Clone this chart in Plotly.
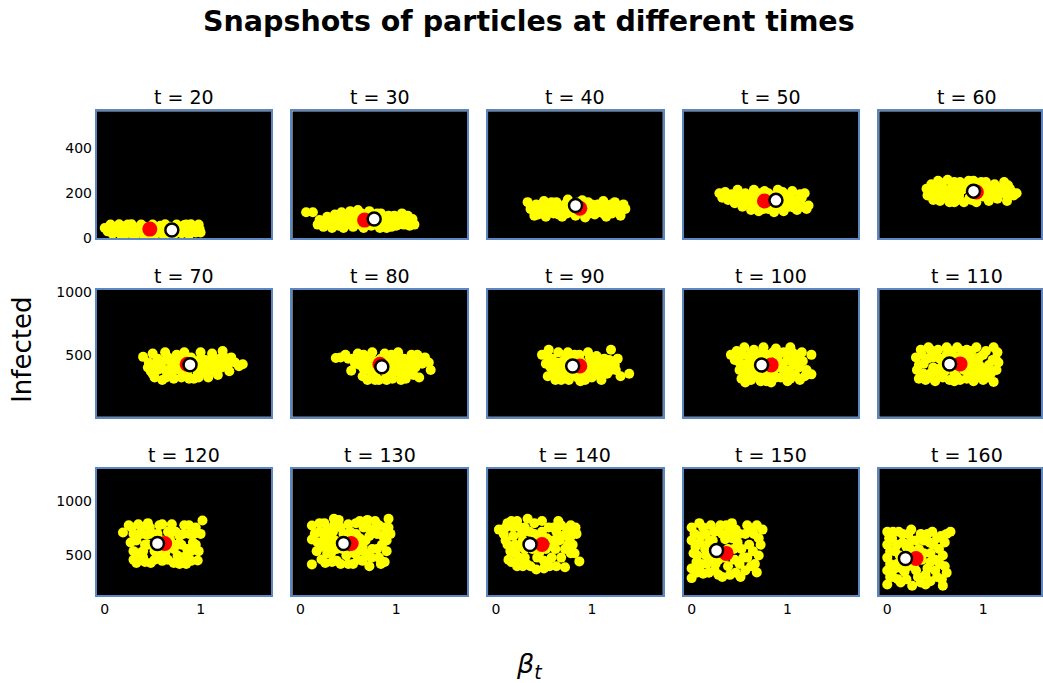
import plotly.graph_objects as go

# Particle snapshots: (beta_t, infected) pairs for each time step
times = [20, 30, 40, 50, 60, 70, 80, 90, 100, 110, 120, 130, 140, 150, 160]

t20 = [(0.0,45),(0.03,30),(0.06,60),(0.08,20),(0.1,50),(0.12,35),(0.15,62),(0.17,15),(0.2,40),(0.22,55),
       (0.25,25),(0.28,62),(0.3,12),(0.32,45),(0.35,30),(0.38,60),(0.4,18),(0.42,50),(0.45,25),(0.5,60),
       (0.52,15),(0.55,40),(0.58,55),(0.6,20),(0.63,62),(0.65,30),(0.68,50),(0.72,15),(0.75,60),(0.78,35),
       (0.8,22),(0.83,58),(0.86,40),(0.88,15),(0.9,62),(0.93,30),(0.96,50),(0.98,60),(1.0,25),(0.7,10),
       (0.45,10),(0.2,10),(0.05,40),(0.1,25),(0.14,48),(0.24,60),(0.27,35),(0.33,20),(0.37,45),(0.43,35),
       (0.5,30),(0.53,50),(0.57,28),(0.62,45),(0.66,15),(0.73,40),(0.77,50),(0.82,25),(0.85,60),(0.9,45),
       (0.95,25),(0.99,40)]
t30 = [(0.06,115),(0.13,115),(0.18,60),(0.2,80),(0.24,50),(0.28,95),(0.3,65),(0.33,45),(0.36,105),(0.38,80),
       (0.4,55),(0.43,115),(0.45,45),(0.47,90),(0.5,70),(0.52,120),(0.55,50),(0.57,100),(0.6,125),(0.62,60),
       (0.64,110),(0.66,45),(0.7,95),(0.72,120),(0.74,55),(0.78,70),(0.8,110),(0.83,45),(0.86,90),(0.88,65),
       (0.92,100),(0.95,50),(0.98,80),(1.02,60),(1.06,110),(1.1,75),(1.14,55),(1.17,85),(1.19,60),(0.9,45),
       (0.55,85),(0.35,70),(0.25,70),(0.3,85),(0.34,55),(0.4,95),(0.42,70),(0.46,105),(0.48,60),(0.52,95),
       (0.56,70),(0.6,85),(0.62,105),(0.68,70),(0.72,75),(0.76,95),(0.8,60),(0.84,110),(0.87,75),(0.9,95),
       (0.94,70),(0.98,100),(1.0,55),(1.04,80),(1.08,60),(1.12,100),(0.22,65)]
t40 = [(0.33,160),(0.36,130),(0.4,100),(0.42,150),(0.46,120),(0.5,165),(0.52,95),(0.56,140),(0.6,110),(0.63,160),
       (0.66,125),(0.69,95),(0.72,150),(0.75,172),(0.78,115),(0.8,135),(0.83,100),(0.86,158),(0.9,120),(0.93,92),
       (0.96,160),(1.0,130),(1.03,105),(1.06,150),(1.09,115),(1.12,165),(1.15,95),(1.18,140),(1.21,110),(1.24,160),
       (1.27,125),(1.3,100),(1.33,150),(1.35,130),(0.6,145),(0.9,168),(1.15,130),(0.45,140),(0.38,125),(0.44,105),
       (0.48,130),(0.54,120),(0.58,160),(0.62,130),(0.65,105),(0.7,125),(0.74,110),(0.77,140),(0.85,115),(0.88,145),
       (0.92,135),(0.98,110),(1.0,150),(1.04,125),(1.08,135),(1.12,110),(1.17,120),(1.2,150),(1.26,145),(1.3,130)]
t50 = [(0.29,200),(0.32,180),(0.35,205),(0.38,170),(0.42,195),(0.45,155),(0.48,215),(0.5,175),(0.53,140),(0.56,200),
       (0.6,160),(0.62,125),(0.65,215),(0.68,180),(0.7,120),(0.73,145),(0.76,210),(0.8,130),(0.83,190),(0.86,115),
       (0.9,215),(0.93,150),(0.96,120),(1.0,185),(1.02,140),(1.05,210),(1.08,165),(1.1,125),(1.13,195),(1.16,140),
       (1.2,130),(1.22,145),(1.18,200),(0.55,175),(0.85,160),(1.0,160),(0.4,185),(0.44,175),(0.47,195),(0.52,190),
       (0.55,160),(0.58,185),(0.62,190),(0.64,145),(0.67,160),(0.7,200),(0.72,170),(0.75,130),(0.78,180),(0.8,200),
       (0.82,145),(0.88,135),(0.9,190),(0.92,175),(0.95,205),(0.97,140),(1.03,195),(1.05,170),(1.07,135),(1.12,170),
       (1.15,180),(0.68,135)]
t60 = [(0.41,220),(0.42,190),(0.46,240),(0.48,170),(0.5,205),(0.53,255),(0.55,165),(0.58,225),(0.6,190),(0.63,260),
       (0.65,160),(0.68,235),(0.7,200),(0.73,170),(0.76,250),(0.8,160),(0.83,225),(0.86,180),(0.9,255),(0.93,160),
       (0.96,230),(1.0,185),(1.03,250),(1.06,165),(1.09,215),(1.12,240),(1.15,175),(1.18,200),(1.22,250),(1.25,165),
       (1.28,220),(1.32,190),(1.35,200),(0.7,160),(1.0,220),(0.55,210),(0.45,210),(0.5,230),(0.52,185),(0.56,245),
       (0.6,210),(0.62,175),(0.66,215),(0.7,250),(0.72,225),(0.75,190),(0.78,215),(0.8,240),(0.85,255),(0.88,170),
       (0.94,200),(0.98,250),(1.02,205),(1.05,230),(1.08,185),(1.12,200),(1.15,225),(1.2,215),(1.24,195),(1.26,235),
       (1.3,205),(0.65,185)]
t70 = [(0.4,484),(0.46,440),(0.48,370),(0.5,510),(0.52,320),(0.55,470),(0.58,400),(0.6,300),(0.63,520),(0.66,350),
       (0.68,450),(0.72,310),(0.75,500),(0.78,380),(0.8,320),(0.83,520),(0.86,350),(0.9,480),(0.93,310),(0.96,420),
       (1.0,520),(1.02,360),(1.05,460),(1.08,320),(1.12,510),(1.15,400),(1.18,340),(1.2,470),(1.23,530),(1.26,430),
       (1.3,370),(1.32,480),(1.36,440),(1.4,410),(1.44,425),(0.7,400),(1.0,400),(0.55,380),(0.45,400),(0.5,350),
       (0.53,430),(0.6,450),(0.63,380),(0.66,480),(0.7,340),(0.74,440),(0.76,410),(0.8,480),(0.82,390),(0.87,430),
       (0.9,400),(0.93,450),(0.97,360),(1.0,470),(1.04,410),(1.08,430),(1.1,370),(1.14,460),(1.17,430),(1.22,400),
       (1.25,480),(1.28,410),(0.98,320),(0.88,310),(0.64,320)]
t80 = [(0.37,475),(0.42,480),(0.47,500),(0.53,373),(0.55,470),(0.6,510),(0.62,420),(0.65,330),(0.68,480),(0.7,300),
       (0.72,380),(0.75,520),(0.78,340),(0.8,450),(0.82,300),(0.88,510),(0.9,340),(0.93,460),(0.96,310),(1.0,400),
       (1.02,520),(1.05,350),(1.08,470),(1.1,310),(1.13,420),(1.16,500),(1.18,340),(1.2,460),(1.24,320),(1.27,430),
       (1.3,480),(1.34,440),(1.36,380),(0.7,420),(1.0,460),(0.9,300),(0.5,470),(0.57,430),(0.62,480),(0.66,390),
       (0.68,440),(0.73,480),(0.76,400),(0.78,300),(0.84,470),(0.86,380),(0.92,420),(0.95,500),(0.97,360),(1.04,430),
       (1.07,400),(1.1,450),(1.12,370),(1.15,460),(1.2,400),(1.22,500),(1.05,300),(0.74,320),(0.66,500)]
t90 = [(0.48,500),(0.55,540),(0.52,430),(0.54,330),(0.58,470),(0.6,380),(0.62,300),(0.65,520),(0.68,420),(0.7,330),
       (0.73,480),(0.76,300),(0.78,360),(0.82,500),(0.85,320),(0.88,450),(0.9,380),(0.93,300),(0.96,520),(1.0,440),
       (1.02,340),(1.05,490),(1.08,390),(1.1,300),(1.13,470),(1.16,350),(1.2,540),(1.22,430),(1.25,380),(1.27,470),
       (1.3,330),(1.39,350),(0.7,450),(1.0,400),(1.15,420),(0.55,470),(0.57,400),(0.6,330),(0.63,440),(0.66,370),
       (0.72,390),(0.75,520),(0.8,440),(0.83,350),(0.87,500),(0.9,330),(0.93,420),(0.95,360),(0.98,480),(1.0,320),
       (1.04,430),(1.07,340),(1.1,460),(1.12,400),(1.18,460),(1.2,380),(1.24,420),(0.68,300),(0.88,290)]
t100 = [(0.41,500),(0.47,530),(0.5,440),(0.52,310),(0.55,560),(0.57,380),(0.6,480),(0.62,300),(0.65,540),(0.68,350),
        (0.7,470),(0.72,290),(0.75,560),(0.78,330),(0.8,500),(0.83,280),(0.86,380),(0.88,550),(0.9,450),(0.93,320),
        (0.96,520),(0.98,380),(1.0,290),(1.03,560),(1.06,420),(1.08,340),(1.1,500),(1.13,300),(1.16,450),(1.2,380),
        (1.25,500),(1.25,345),(0.65,420),(0.95,430),(0.6,380),(0.45,460),(0.5,380),(0.53,500),(0.55,330),(0.58,430),
        (0.62,510),(0.64,360),(0.67,470),(0.7,330),(0.72,510),(0.77,460),(0.8,350),(0.85,520),(0.88,320),(0.9,490),
        (0.93,400),(0.96,340),(1.0,460),(1.02,370),(1.05,520),(1.08,450),(1.12,400),(1.15,520),(1.18,330),(1.03,310),
        (0.78,290),(0.56,280)]
t110 = [(0.3,480),(0.31,380),(0.33,310),(0.35,540),(0.38,430),(0.4,300),(0.43,560),(0.46,360),(0.48,480),(0.5,290),
        (0.53,540),(0.56,400),(0.58,320),(0.62,560),(0.65,300),(0.68,500),(0.7,350),(0.73,560),(0.76,300),(0.8,460),
        (0.83,540),(0.86,340),(0.88,420),(0.9,290),(0.93,560),(0.96,480),(0.98,360),(1.0,300),(1.03,530),(1.06,420),
        (1.08,350),(1.11,560),(1.13,470),(1.11,285),(1.15,520),(1.16,440),(0.6,430),(0.9,470),(0.33,420),(0.36,500),
        (0.38,350),(0.42,470),(0.45,320),(0.48,400),(0.5,520),(0.53,360),(0.55,470),(0.6,370),(0.62,500),(0.66,530),
        (0.68,400),(0.72,330),(0.74,480),(0.78,530),(0.8,380),(0.83,310),(0.85,490),(0.88,530),(0.9,380),(0.94,320),
        (0.96,420),(1.0,500),(1.02,380),(1.05,320),(1.1,460),(1.14,380),(0.45,540),(0.7,290)]
t120 = [(0.19,713),(0.25,780),(0.27,620),(0.3,540),(0.33,430),(0.35,790),(0.38,700),(0.4,480),(0.42,600),(0.45,800),
        (0.48,430),(0.5,700),(0.52,540),(0.57,780),(0.6,450),(0.63,520),(0.66,720),(0.7,790),(0.72,430),(0.75,600),
        (0.78,680),(0.8,480),(0.83,780),(0.86,560),(0.88,700),(0.9,450),(0.92,620),(0.95,760),(0.97,454),(0.98,540),
        (1.0,700),(1.02,824),(0.3,700),(0.6,640),(0.85,420),(0.28,760),(0.3,460),(0.33,640),(0.36,520),(0.38,760),
        (0.42,440),(0.44,690),(0.47,760),(0.5,600),(0.52,460),(0.55,700),(0.58,520),(0.6,790),(0.62,580),(0.66,460),
        (0.68,650),(0.72,560),(0.74,720),(0.76,500),(0.8,600),(0.82,700),(0.85,500),(0.88,780),(0.9,540),(0.93,700),
        (0.95,600),(0.4,540),(0.45,600),(0.7,720),(0.78,420)]
t130 = [(0.12,778),(0.12,648),(0.12,417),(0.22,463),(0.2,720),(0.22,580),(0.25,800),(0.28,520),(0.3,660),(0.33,440),
        (0.35,780),(0.38,560),(0.4,830),(0.42,420),(0.45,700),(0.48,500),(0.5,790),(0.55,420),(0.58,700),(0.6,540),
        (0.62,820),(0.65,450),(0.68,640),(0.7,760),(0.72,400),(0.75,560),(0.78,820),(0.8,700),(0.82,480),(0.85,600),
        (0.88,760),(0.9,540),(0.92,840),(0.94,700),(0.88,440),(0.3,600),(0.65,580),(0.15,700),(0.17,540),(0.18,620),
        (0.2,800),(0.25,660),(0.26,430),(0.28,740),(0.32,520),(0.34,720),(0.36,640),(0.38,450),(0.42,760),(0.44,560),
        (0.48,660),(0.5,420),(0.52,720),(0.56,520),(0.58,800),(0.6,460),(0.62,660),(0.66,760),(0.68,520),(0.72,680),
        (0.74,480),(0.76,740),(0.8,560),(0.82,780),(0.84,420),(0.86,680),(0.9,640),(0.92,760),(0.6,620),(0.35,840),
        (0.7,830)]
t140 = [(0.03,740),(0.1,760),(0.12,600),(0.13,460),(0.16,820),(0.18,680),(0.2,520),(0.22,400),(0.25,760),(0.28,640),
        (0.3,480),(0.33,840),(0.36,400),(0.4,700),(0.42,370),(0.45,520),(0.48,820),(0.5,450),(0.53,660),(0.56,400),
        (0.6,760),(0.62,560),(0.65,820),(0.68,480),(0.7,680),(0.72,390),(0.75,600),(0.78,780),(0.8,700),(0.82,520),
        (0.87,445),(0.6,640),(0.25,580),(0.83,760),(0.08,700),(0.1,640),(0.12,800),(0.15,540),(0.16,440),(0.18,760),
        (0.2,600),(0.22,820),(0.24,480),(0.27,700),(0.3,560),(0.32,420),(0.35,720),(0.38,560),(0.4,800),(0.43,480),
        (0.45,640),(0.48,720),(0.5,380),(0.52,560),(0.55,760),(0.58,480),(0.6,580),(0.63,720),(0.66,640),(0.68,780),
        (0.72,560),(0.74,720),(0.77,660),(0.78,520),(0.8,600),(0.84,700),(0.63,400),(0.3,760),(0.28,400)]
t150 = [(0.0,760),(0.0,640),(0.02,520),(0.0,380),(0.0,290),(0.05,440),(0.08,800),(0.1,680),(0.12,330),(0.14,560),
        (0.16,420),(0.2,780),(0.22,640),(0.24,360),(0.28,460),(0.3,780),(0.32,300),(0.35,650),(0.38,400),(0.42,800),
        (0.44,560),(0.46,340),(0.5,700),(0.51,300),(0.54,480),(0.58,780),(0.6,600),(0.62,400),(0.65,700),(0.68,343),
        (0.7,500),(0.72,600),(0.74,740),(0.15,700),(0.45,460),(0.03,700),(0.04,580),(0.05,340),(0.06,500),(0.08,620),
        (0.1,420),(0.12,760),(0.15,500),(0.18,620),(0.18,340),(0.2,460),(0.24,720),(0.26,560),(0.28,320),(0.32,700),
        (0.34,480),(0.36,780),(0.38,560),(0.4,320),(0.42,660),(0.46,740),(0.48,620),(0.5,420),(0.52,560),(0.56,700),
        (0.58,480),(0.62,720),(0.64,540),(0.66,420),(0.68,780),(0.7,660),(0.4,720),(0.56,360),(0.25,420),(0.08,380)]
t160 = [(0.0,720),(0.0,600),(0.0,480),(0.0,360),(0.0,230),(0.05,660),(0.06,300),(0.08,540),(0.1,420),(0.12,720),
        (0.14,250),(0.16,620),(0.18,350),(0.22,700),(0.24,560),(0.26,220),(0.28,420),(0.3,640),(0.32,300),(0.35,700),
        (0.38,520),(0.4,230),(0.42,380),(0.44,620),(0.47,720),(0.5,460),(0.52,300),(0.54,560),(0.56,680),(0.58,220),
        (0.6,400),(0.62,700),(0.66,720),(0.2,480),(0.45,520),(0.02,660),(0.03,540),(0.03,420),(0.03,300),(0.06,720),
        (0.08,380),(0.1,600),(0.11,280),(0.13,500),(0.15,380),(0.16,700),(0.2,580),(0.2,280),(0.22,400),(0.25,640),
        (0.27,500),(0.3,360),(0.33,560),(0.35,250),(0.36,460),(0.38,640),(0.4,320),(0.42,700),(0.45,440),(0.48,600),
        (0.5,360),(0.52,660),(0.55,420),(0.57,280),(0.58,500),(0.6,620),(0.62,340),(0.25,740),(0.45,260)]

snapshots = [t20, t30, t40, t50, t60, t70, t80, t90, t100, t110, t120, t130, t140, t150, t160]

# Reference state (red) and particle mean (white) at each snapshot
true_beta = [0.47, 0.67, 0.875, 0.76, 0.93, 0.86, 0.83, 0.875, 0.83, 0.76, 0.625, 0.53, 0.48, 0.36, 0.30]
true_infected = [40, 80, 133, 165, 205, 425, 425, 412, 420, 428, 611, 611, 602, 519, 472]
mean_beta = [0.70, 0.77, 0.83, 0.88, 0.90, 0.89, 0.85, 0.80, 0.73, 0.65, 0.55, 0.45, 0.355, 0.26, 0.19]
mean_infected = [36, 85, 145, 168, 209, 421, 405, 412, 420, 428, 611, 611, 602, 546, 472]

x_ticks = [0, 1]
y_ticks_by_row = [[0, 200, 400], [500, 1000], [500, 1000]]
y_ranges = [[0, 564], [8, 1016], [130, 1306]]

# Page geometry (pixels)
W, H = 1043, 683
col_left = [97, 293, 489, 685, 881]
row_top = [111, 290, 469]
panel_w, panel_h = 175, 127
x_min, px_per_unit = -0.083, 96.0

# the page is laid out slightly taller than the viewport; pre-scale vertical positions
V_OFF, V_SCALE = 5.4, 0.9816


def py(y_px):
    """Paper y for a target pixel row measured from the top."""
    return 1 - ((y_px - V_OFF) / V_SCALE) / H


font_family = "DejaVu Sans"
frame_color = "#5b87c5"

fig = go.Figure()
layout_axes = {}
annotations = []

for i, t in enumerate(times):
    r, c = divmod(i, 5)
    n = i + 1
    xa = "x" if n == 1 else f"x{n}"
    ya = "y" if n == 1 else f"y{n}"
    pts = snapshots[i]
    fig.add_trace(go.Scatter(
        x=[p[0] for p in pts], y=[p[1] for p in pts], mode="markers",
        marker=dict(color="#ffff00", size=10, line=dict(width=0)),
        xaxis=xa, yaxis=ya, showlegend=False, hoverinfo="skip"))
    fig.add_trace(go.Scatter(
        x=[true_beta[i]], y=[true_infected[i]], mode="markers",
        marker=dict(color="#ff0000", size=15, line=dict(width=0)),
        xaxis=xa, yaxis=ya, showlegend=False))
    fig.add_trace(go.Scatter(
        x=[mean_beta[i]], y=[mean_infected[i]], mode="markers",
        marker=dict(color="#ffffff", size=13, line=dict(width=2.5, color="#000000")),
        xaxis=xa, yaxis=ya, showlegend=False))

    left = col_left[c]
    right = min(left + panel_w, W)
    top = row_top[r]
    bottom = top + panel_h
    x_dom = [left / W, right / W]
    y_dom = [py(bottom), py(top)]
    x_max = x_min + (right - left) / px_per_unit

    layout_axes[f"xaxis{'' if n == 1 else n}"] = dict(
        domain=x_dom, range=[x_min, x_max], anchor=ya,
        tickvals=x_ticks, showticklabels=(r == 2), ticks="",
        showgrid=False, zeroline=False, showline=True, mirror=True,
        linecolor=frame_color, linewidth=2,
        tickfont=dict(family=font_family, size=14, color="#000000"))
    layout_axes[f"yaxis{'' if n == 1 else n}"] = dict(
        domain=y_dom, range=y_ranges[r], anchor=xa,
        tickvals=y_ticks_by_row[r], showticklabels=(c == 0), ticks="",
        showgrid=False, zeroline=False, showline=True, mirror=True,
        linecolor=frame_color, linewidth=2,
        tickfont=dict(family=font_family, size=14, color="#000000"))

    annotations.append(dict(
        text=f"t = {t}", x=(left + panel_w / 2) / W, y=py(top - 14),
        xref="paper", yref="paper", xanchor="center", yanchor="middle",
        showarrow=False, font=dict(family=font_family, size=19, color="#000000")))

annotations.append(dict(
    text="Infected", x=22 / W, y=py(350), xref="paper", yref="paper",
    xanchor="center", yanchor="middle", textangle=-90, showarrow=False,
    font=dict(family=font_family, size=26, color="#000000")))
annotations.append(dict(
    text="<i>β</i><sub><i>t</i></sub>", x=530 / W, y=py(666), xref="paper", yref="paper",
    xanchor="center", yanchor="middle", showarrow=False,
    font=dict(family=font_family, size=27, color="#000000")))
annotations.append(dict(
    text="<b>Snapshots of particles at different times</b>", x=530 / W, y=py(21),
    xref="paper", yref="paper", xanchor="center", yanchor="middle", showarrow=False,
    font=dict(family=font_family, size=28.5, color="#000000")))

fig.update_layout(
    width=W, height=H, margin=dict(l=0, r=0, t=0, b=0),
    paper_bgcolor="#ffffff", plot_bgcolor="#000000",
    annotations=annotations, **layout_axes)

fig.write_html("out.html")
